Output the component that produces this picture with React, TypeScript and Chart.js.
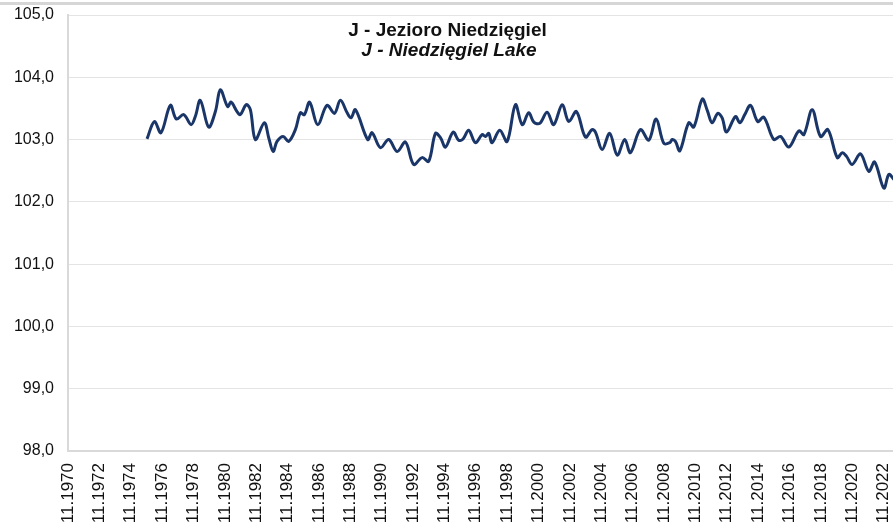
import React, { useEffect, useRef } from 'react';
import { Chart, registerables } from 'chart.js';

Chart.register(...registerables);

// Dates as decimal years, water level in m a.s.l.
const years = [
  1975.87, 1976.34, 1976.76, 1977.36, 1977.74, 1978.21, 1978.68, 1978.95, 1979.27, 1979.80,
  1980.23, 1980.55, 1981.01, 1981.23, 1981.61, 1981.82, 1982.20, 1982.46, 1982.78, 1983.35,
  1983.63, 1983.91, 1984.16, 1984.55, 1984.90, 1985.33, 1985.65, 1985.90, 1986.24, 1986.75,
  1987.35, 1987.82, 1988.20, 1988.63, 1988.88, 1989.16, 1989.94, 1990.22, 1990.75, 1991.28,
  1991.82, 1992.35, 1992.87, 1993.41, 1993.83, 1994.26, 1994.58, 1994.90, 1995.39, 1995.74,
  1996.02, 1996.38, 1996.81, 1997.24, 1997.45, 1997.66, 1997.87, 1998.36, 1998.83, 1999.36,
  1999.79, 2000.21, 2000.53, 2000.91, 2001.38, 2001.80, 2002.34, 2002.76, 2003.25, 2003.82,
  2004.25, 2004.46, 2004.89, 2005.37, 2005.85, 2006.33, 2006.69, 2007.33, 2007.86, 2008.33,
  2008.82, 2009.20, 2009.35, 2009.56, 2009.84, 2010.41, 2010.73, 2011.27, 2011.59, 2011.90,
  2012.26, 2012.54, 2012.82, 2013.39, 2013.67, 2013.98, 2014.35, 2014.81, 2015.20, 2015.83,
  2016.26, 2016.79, 2017.43, 2017.75, 2018.28, 2018.81, 2019.28, 2019.88, 2020.20, 2020.47,
  2020.83, 2021.36, 2021.89, 2022.26, 2022.85, 2023.17, 2023.49,
];

const levels = [
  103.01, 103.29, 103.11, 103.55, 103.33, 103.40, 103.24, 103.37, 103.63, 103.20,
  103.45, 103.80, 103.53, 103.60, 103.45, 103.40, 103.56, 103.48, 103.00, 103.27,
  103.03, 102.81, 102.97, 103.05, 102.97, 103.16, 103.43, 103.40, 103.60, 103.24,
  103.55, 103.42, 103.63, 103.43, 103.35, 103.48, 103.00, 103.11, 102.87, 103.00,
  102.81, 102.96, 102.60, 102.71, 102.65, 103.10, 103.03, 102.88, 103.12, 102.99,
  103.01, 103.15, 102.95, 103.08, 103.05, 103.10, 102.95, 103.15, 102.97, 103.56,
  103.24, 103.43, 103.28, 103.26, 103.44, 103.24, 103.56, 103.29, 103.45, 103.04,
  103.16, 103.12, 102.84, 103.10, 102.75, 103.00, 102.79, 103.16, 102.99, 103.33,
  102.94, 102.95, 103.00, 102.97, 102.82, 103.27, 103.20, 103.65, 103.47, 103.27,
  103.42, 103.35, 103.12, 103.37, 103.27, 103.40, 103.55, 103.29, 103.36, 103.00,
  103.05, 102.88, 103.14, 103.08, 103.48, 103.05, 103.16, 102.71, 102.79, 102.73,
  102.60, 102.77, 102.49, 102.64, 102.22, 102.44, 102.36,
];

const tickYears = [
  1970, 1972, 1974, 1976, 1978, 1980, 1982, 1984, 1986, 1988, 1990, 1992, 1994, 1996,
  1998, 2000, 2002, 2004, 2006, 2008, 2010, 2012, 2014, 2016, 2018, 2020, 2022,
];
const tickMonth = 11;
const xMaxYear = 2024;
const yMin = 98;
const yMax = 105;
const titleLines = ['J - Jezioro Niedzięgiel', 'J - Niedzięgiel Lake'];

const FONT = '"Liberation Sans", Arial, sans-serif';
const CANVAS_W = 916;
const CANVAS_H = 560;

export default function App() {
  const ref = useRef<HTMLCanvasElement>(null);

  useEffect(() => {
    const canvas = ref.current;
    if (!canvas) return;
    const monthOffset = (tickMonth - 1) / 12;
    const tickPos = tickYears.map((y) => y + monthOffset);

    const titlePlugin = {
      id: 'overTitle',
      afterDraw(chart: any) {
        const ctx = chart.ctx;
        ctx.save();
        ctx.fillStyle = '#111';
        ctx.textAlign = 'center';
        ctx.textBaseline = 'alphabetic';
        ctx.font = `bold 19px ${FONT}`;
        ctx.fillText(titleLines[0], 447.5, 36);
        ctx.font = `italic bold 19px ${FONT}`;
        ctx.fillText(titleLines[1], 449, 56);
        ctx.restore();
      },
    };

    const chart = new Chart(canvas, {
      type: 'line',
      data: {
        datasets: [
          {
            data: years.map((x, i) => ({ x, y: levels[i] })),
            borderColor: '#1a3668',
            borderWidth: 3,
            pointRadius: 0,
            tension: 0.35,
            fill: false,
          },
        ],
      },
      options: {
        animation: false,
        responsive: false,
        maintainAspectRatio: false,
        layout: { padding: { top: 15, left: 0, right: 0, bottom: 0 } },
        plugins: {
          legend: { display: false },
          title: { display: false },
          tooltip: { enabled: false },
        },
        scales: {
          x: {
            type: 'linear',
            min: tickPos[0],
            max: xMaxYear + monthOffset,
            afterBuildTicks(scale: any) {
              scale.ticks = tickPos.map((v) => ({ value: v }));
            },
            afterFit(scale: any) {
              scale.height = 109;
            },
            grid: { color: 'rgba(0,0,0,0)', drawTicks: false },
            border: { display: true, color: '#d9d9d9', width: 2 },
            ticks: {
              autoSkip: false,
              maxRotation: 90,
              minRotation: 90,
              padding: 12,
              color: '#111',
              font: { family: FONT, size: 17 },
              callback: (v: any) => `${tickMonth}.${Math.round(Number(v) - monthOffset)}`,
            },
          },
          y: {
            min: yMin,
            max: yMax,
            afterFit(scale: any) {
              scale.width = 68;
            },
            grid: {
              color: '#e4e4e4',
              lineWidth: 1,
              drawTicks: true,
              tickLength: 14,
              tickColor: 'rgba(0,0,0,0)',
            },
            border: { display: true, color: '#d9d9d9', width: 2 },
            ticks: {
              stepSize: 1,
              padding: 0,
              color: '#111',
              font: { family: FONT, size: 16 },
              callback: (v: any) => Number(v).toFixed(1).replace('.', ','),
            },
          },
        },
      },
      plugins: [titlePlugin],
    });

    return () => chart.destroy();
  }, []);

  return (
    <div
      style={{
        position: 'fixed',
        left: 0,
        top: 0,
        width: 893,
        height: 524,
        overflow: 'hidden',
        background: '#fff',
      }}
    >
      <canvas
        ref={ref}
        width={CANVAS_W}
        height={CANVAS_H}
        style={{ position: 'absolute', left: 0, top: 0, width: CANVAS_W, height: CANVAS_H }}
      />
      <div
        style={{
          position: 'absolute',
          left: 0,
          top: 2,
          width: '100%',
          height: 3,
          background: '#d6d6d6',
        }}
      />
    </div>
  );
}
